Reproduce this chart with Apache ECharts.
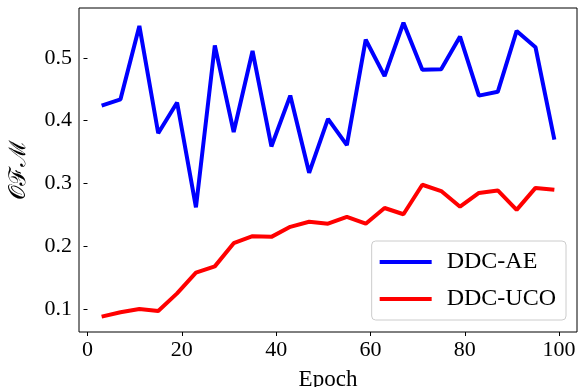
<!DOCTYPE html>
<html>
<head>
<meta charset="utf-8">
<script src="https://cdn.jsdelivr.net/npm/echarts@6/dist/echarts.min.js"></script>
<style>html,body{margin:0;padding:0;background:#fff}#c{width:580px;height:387px}</style>
</head>
<body>
<div id="c"></div>
<script>
const epochs = [3,7,11,15,19,23,27,31,35,39,43,47,51,55,59,63,67,71,75,79,83,87,91,95,99];
const ddcAE = [0.424,0.434,0.551,0.380,0.429,0.262,0.520,0.382,0.511,0.359,0.440,0.317,0.403,0.361,0.529,0.471,0.556,0.481,0.482,0.534,0.440,0.446,0.543,0.517,0.370];
const ddcUCO = [0.088,0.095,0.100,0.097,0.125,0.158,0.168,0.205,0.216,0.215,0.231,0.239,0.236,0.247,0.236,0.261,0.251,0.298,0.288,0.263,0.285,0.289,0.258,0.293,0.290];
const xTicks = [0,20,40,60,80,100];
const yTicks = [0.1,0.2,0.3,0.4,0.5];
const seriesNames = ['DDC-AE','DDC-UCO'];
const colors = ['#0000ff','#ff0000'];

const font = "'Liberation Serif', 'DejaVu Serif', serif";
const chart = echarts.init(document.getElementById('c'), null, {renderer:'canvas'});
chart.setOption({
  animation:false,
  grid:{left:79,right:3,top:8,bottom:55,show:true,borderColor:'#000',borderWidth:1,backgroundColor:'transparent',
    containLabel:false,outerBoundsMode:'none'},
  xAxis:{type:'value',min:-1.8,max:103.8,
    name:'Epoch',nameLocation:'middle',nameGap:36,
    nameTextStyle:{fontFamily:font,fontSize:23,color:'#000'},
    axisLine:{show:false},splitLine:{show:false},
    axisTick:{show:true,length:4,lineStyle:{color:'#000'},customValues:xTicks},
    axisLabel:{fontFamily:font,fontSize:22,color:'#000',margin:7,customValues:xTicks,formatter:v=>String(v)}},
  yAxis:{type:'value',min:0.0635,max:0.5795,
    name:'𝒪ℱℳ',nameLocation:'middle',nameGap:48,nameRotate:90,
    nameTextStyle:{fontFamily:"'DejaVu Serif', 'Noto Sans', serif",fontSize:23,color:'#000'},
    axisLine:{show:false},splitLine:{show:false},
    axisTick:{show:true,length:4,lineStyle:{color:'#000'},customValues:yTicks},
    axisLabel:{fontFamily:font,fontSize:22,color:'#000',margin:7,customValues:yTicks,formatter:v=>v.toFixed(1)}},
  legend:{orient:'vertical',right:14,bottom:67,
    data:seriesNames,icon:'rect',itemWidth:52,itemHeight:4,itemGap:13,
    textStyle:{fontFamily:font,fontSize:24,color:'#000',padding:[0,0,0,10]},
    backgroundColor:'rgba(255,255,255,0.8)',borderColor:'#cccccc',borderWidth:1,borderRadius:4,
    padding:[9,10,9,8]},
  series:[
    {name:seriesNames[0],type:'line',data:epochs.map((e,i)=>[e,ddcAE[i]]),symbol:'none',
     lineStyle:{color:colors[0],width:4},itemStyle:{color:colors[0]}},
    {name:seriesNames[1],type:'line',data:epochs.map((e,i)=>[e,ddcUCO[i]]),symbol:'none',
     lineStyle:{color:colors[1],width:4},itemStyle:{color:colors[1]}}
  ]
});
</script>
</body>
</html>
